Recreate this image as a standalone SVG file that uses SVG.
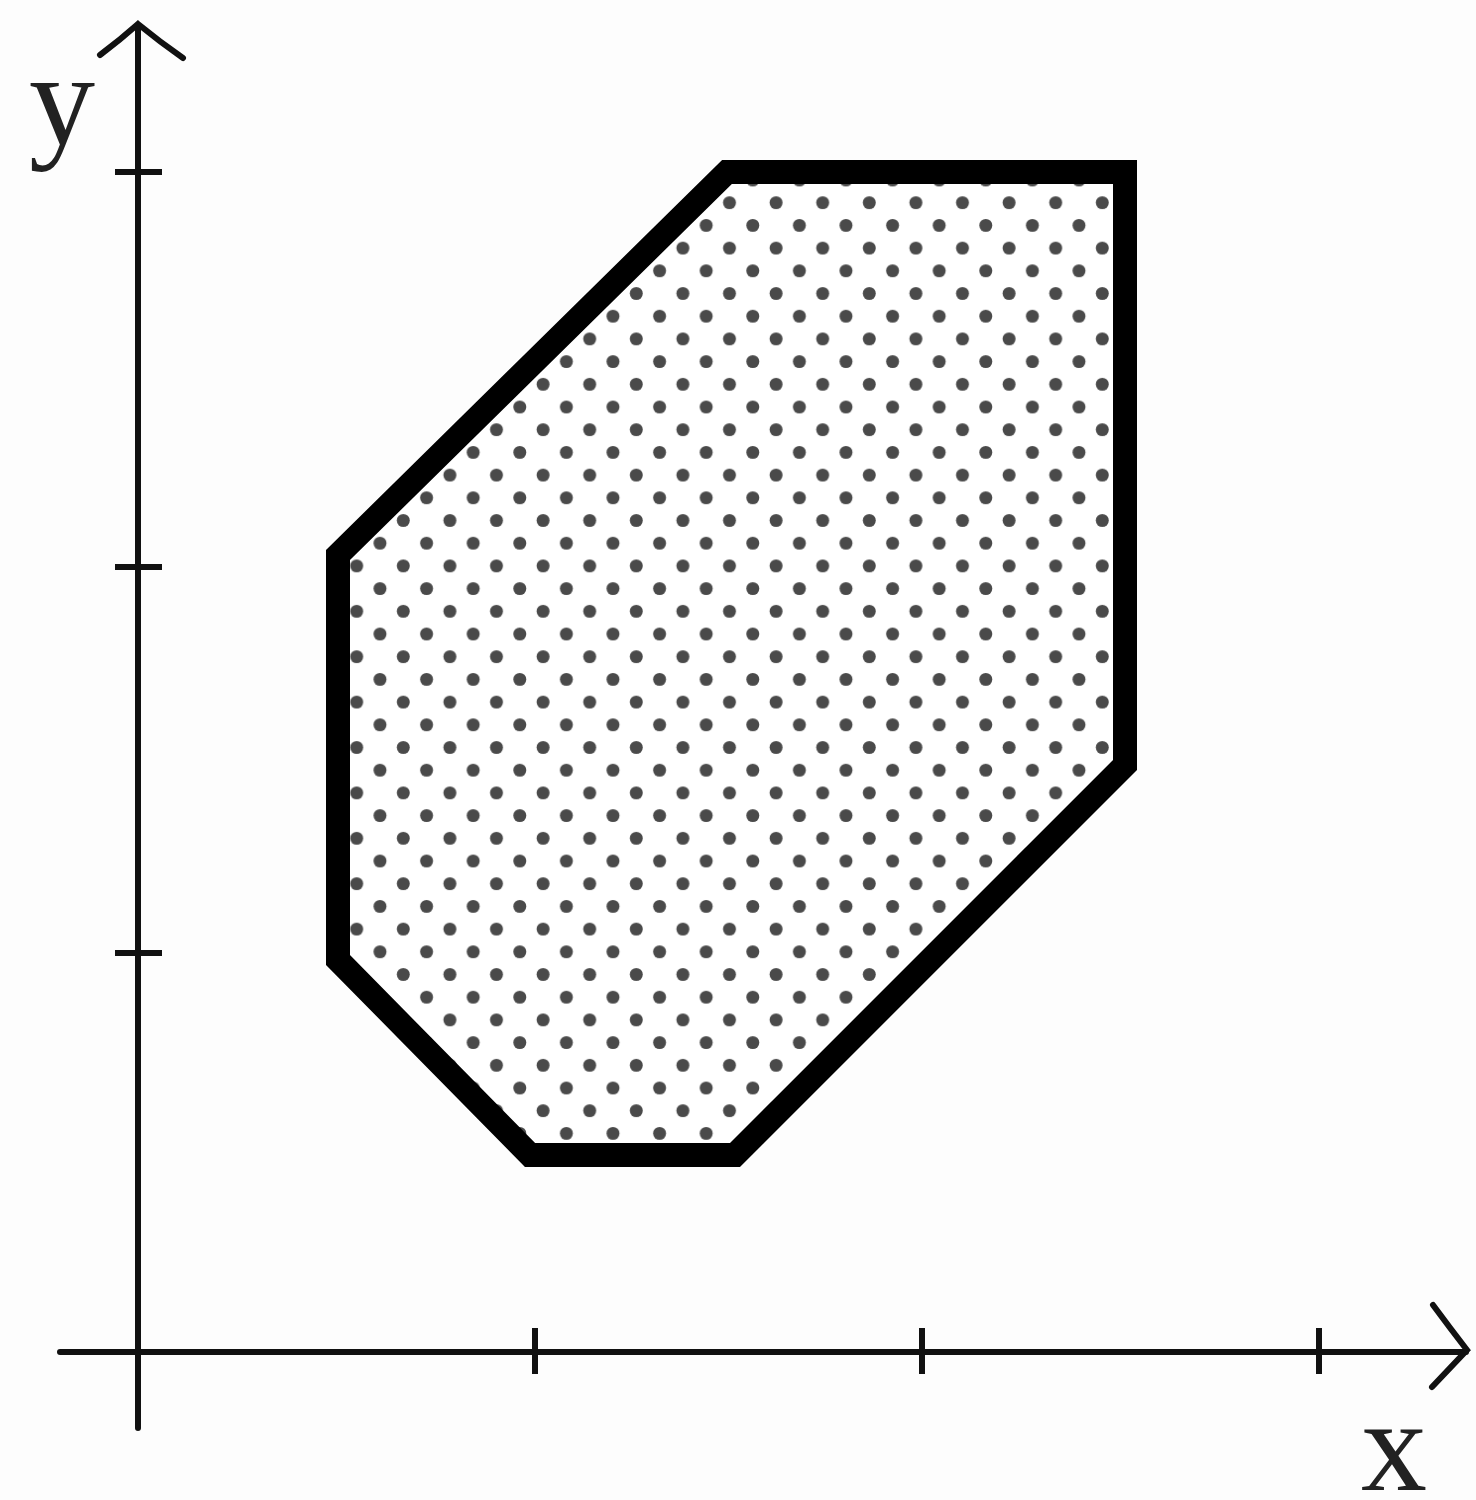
<svg xmlns="http://www.w3.org/2000/svg" width="1476" height="1500" viewBox="0 0 1476 1500">
<defs>
<pattern id="dots" patternUnits="userSpaceOnUse" x="601.35" y="395.65" width="46.6" height="45.4">
<circle cx="11.65" cy="11.35" r="6.5" fill="#4a4a4a"/>
<circle cx="34.95" cy="34.05" r="6.5" fill="#4a4a4a"/>
</pattern>
<style>
.axis{stroke:#111;stroke-width:6;fill:none;stroke-linecap:round;}
.tick{stroke:#111;stroke-width:6;fill:none;}
.lbl{font-family:"Liberation Serif","Times New Roman",serif;font-size:132px;fill:#222;}
</style>
</defs>
<rect width="1476" height="1500" fill="#fdfdfd"/>
<g id="region">
<polygon points="727,172 1125,172 1125,765 735,1155 530,1155 338,960 338,555" fill="#fff" stroke="none"/>
<polygon points="727,172 1125,172 1125,765 735,1155 530,1155 338,960 338,555" fill="url(#dots)" stroke="#000" stroke-width="24" stroke-linejoin="miter"/>
</g>
<g id="axes">
<line class="axis" x1="138" y1="26" x2="138" y2="1428"/>
<path class="axis" d="M100,55 Q120,40 138,24 Q160,42 183,58"/>
<line class="axis" x1="60" y1="1352" x2="1466" y2="1352"/>
<path class="axis" d="M1433,1305 Q1450,1328 1467,1350 Q1448,1370 1432,1387"/>
<line class="tick" x1="115" y1="172" x2="162" y2="172"/>
<line class="tick" x1="115" y1="567" x2="162" y2="567"/>
<line class="tick" x1="115" y1="953" x2="162" y2="953"/>
<line class="tick" x1="535" y1="1328" x2="535" y2="1374"/>
<line class="tick" x1="922" y1="1328" x2="922" y2="1374"/>
<line class="tick" x1="1319" y1="1328" x2="1319" y2="1374"/>
</g>
<g id="labels">
<text class="lbl" x="29" y="144">y</text>
<text class="lbl" x="1361" y="1490">x</text>
</g>
</svg>
